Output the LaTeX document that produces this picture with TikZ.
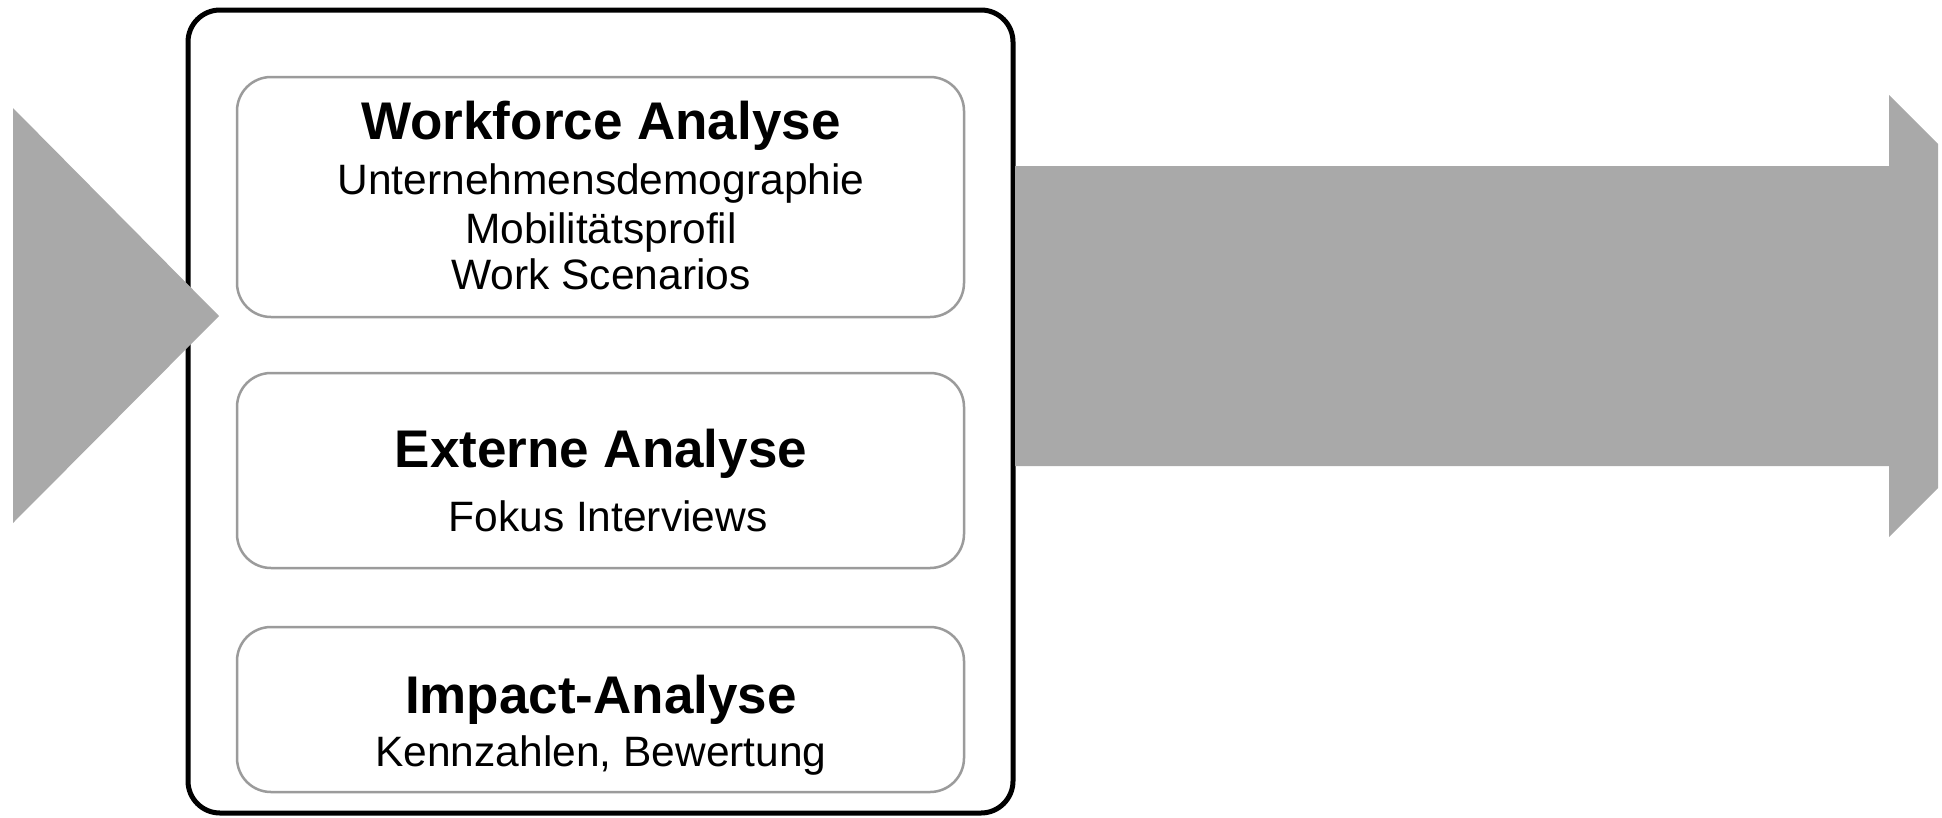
\documentclass[tikz,border=0pt]{standalone}
\usepackage{fontspec}
\setmainfont{Liberation Sans}
\definecolor{panelgray}{RGB}{155,155,155}
\definecolor{flowgray}{RGB}{169,169,169}
\begin{document}
\begin{tikzpicture}[x=1pt,y=-1pt,
  frame/.style={draw=black,line width=5pt,rounded corners=32pt,fill=white,inner sep=0pt},
  panel/.style={draw=panelgray,line width=2.5pt,rounded corners=34pt,fill=white,inner sep=0pt,minimum width=727pt},
  heading/.style={anchor=base,inner sep=0pt,font=\fontsize{53}{60}\selectfont\bfseries},
  detail/.style={anchor=base,inner sep=0pt,font=\fontsize{42.5}{48}\selectfont},
  flow/.style={fill=flowgray,draw=none}]
\useasboundingbox (0,0) rectangle (1942,817);

% outer frame holding the three analysis panels
\node[frame,minimum width=825pt,minimum height=803pt] (frame) at (600.5,411.5) {};

% wide arrow leaving the frame to the right
\fill[flow] (1015,166) -- (1889,166) -- (1889,95) -- (1938,144)
  -- (1938,488) -- (1889,537) -- (1889,466) -- (1015,466) -- cycle;

% incoming chevron on the left
\fill[flow] (13,108) -- (219,316) -- (13,523) -- cycle;

% panels
\node[panel,minimum height=240pt] (workforce) at (600.5,197) {};
\node[panel,minimum height=195pt] (extern) at (600.5,470.5) {};
\node[panel,minimum height=165pt] (impact) at (600.5,709.5) {};

% panel texts
\node[heading] (wfT) at (601,139) {Workforce Analyse};
\node[detail] (wf1) at (601,194) {Unternehmensdemographie};
\node[detail] (wf2) at (601,243) {Mobilitätsprofil};
\node[detail] (wf3) at (601,289.5) {Work Scenarios};

\node[heading] (exT) at (601,467) {Externe Analyse};
\node[detail] (ex1) at (608,531) {Fokus Interviews};

\node[heading] (imT) at (601,713) {Impact-Analyse};
\node[detail] (im1) at (601,766) {Kennzahlen, Bewertung};
\end{tikzpicture}
\end{document}
